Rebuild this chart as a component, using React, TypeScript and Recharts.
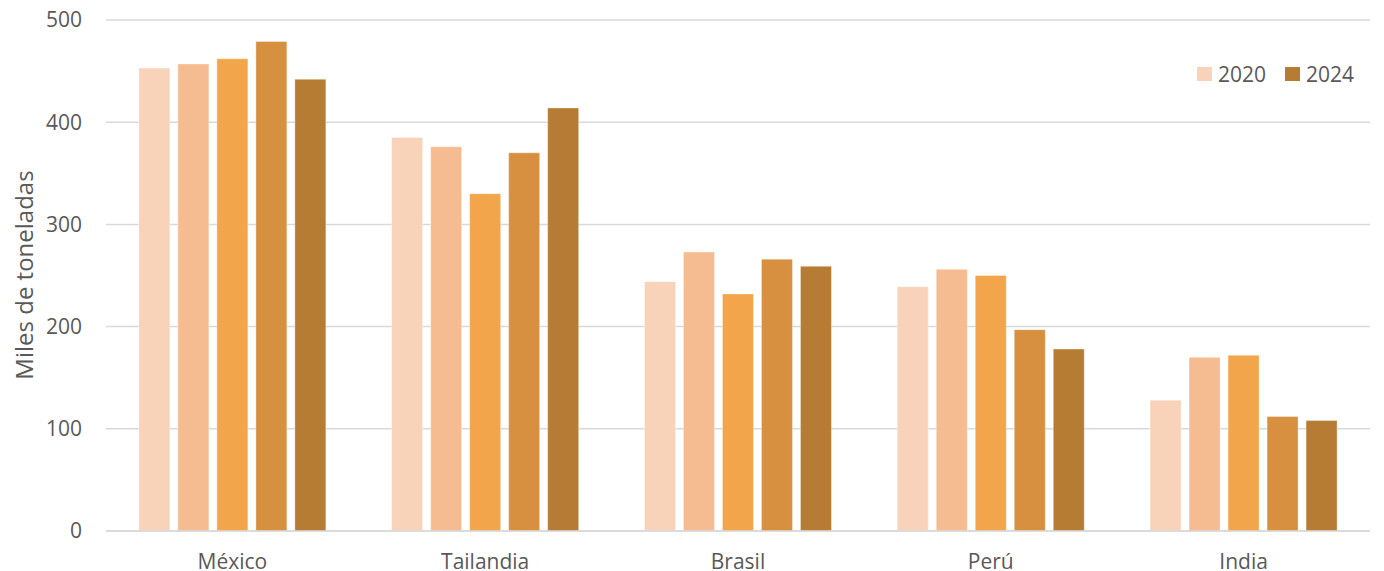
import React from 'react';
import { BarChart, Bar, XAxis, YAxis, CartesianGrid } from 'recharts';

const categories = ['México', 'Tailandia', 'Brasil', 'Perú', 'India'];
const years = ['2020', '2021', '2022', '2023', '2024'];
const v2020 = [453, 385, 244, 239, 128];
const v2021 = [457, 376, 273, 256, 170];
const v2022 = [462, 330, 232, 250, 172];
const v2023 = [479, 370, 266, 197, 112];
const v2024 = [442, 414, 259, 178, 108];
const seriesValues = [v2020, v2021, v2022, v2023, v2024];
const colors = ['#F8D3B9', '#F5BC91', '#F2A54A', '#D6903F', '#B67C34'];
const legendYears = ['2020', '2024'];
const yTicks = [0, 100, 200, 300, 400, 500];
const yLabel = 'Miles de toneladas';

const data = categories.map((name, i) => {
  const row: Record<string, string | number> = { name };
  years.forEach((y, j) => {
    row[y] = seriesValues[j][i];
  });
  return row;
});

const FONT = '"Open Sans", sans-serif';
const TEXT = '#595959';
const FS = 21;

const LegendBox = () => (
  <div
    style={{
      position: 'absolute',
      left: 1197,
      top: 62,
      display: 'flex',
      alignItems: 'center',
      fontFamily: FONT,
      fontSize: FS,
      color: TEXT,
    }}
  >
    {legendYears.map((y, k) => (
      <div key={y} style={{ display: 'flex', alignItems: 'center', marginRight: k < legendYears.length - 1 ? 19 : 0 }}>
        <div style={{ width: 15, height: 14, background: colors[years.indexOf(y)], marginRight: 6 }} />
        <span style={{ lineHeight: '24px' }}>{y}</span>
      </div>
    ))}
  </div>
);

export default function App() {
  return (
    <div style={{ position: 'absolute', left: 0, top: 0, width: 1384, height: 571, background: '#fff' }}>
      <BarChart
        width={1384}
        height={571}
        data={data}
        margin={{ top: 20, right: 14, left: 0, bottom: 0 }}
        barCategoryGap="13%"
        barGap={8}
      >
        <CartesianGrid vertical={false} stroke="#D9D9D9" strokeWidth={1.5} />
        <XAxis
          dataKey="name"
          height={40}
          tickLine={false}
          tickSize={0}
          tickMargin={23}
          axisLine={{ stroke: '#D9D9D9', strokeWidth: 1.5 }}
          tick={{ fill: TEXT, fontSize: FS, fontFamily: FONT }}
        />
        <YAxis
          width={106}
          domain={[0, 500]}
          ticks={yTicks}
          axisLine={false}
          tickLine={false}
          tickSize={0}
          tickMargin={24}
          tick={{ fill: TEXT, fontSize: FS, fontFamily: FONT }}
          label={{
            value: yLabel,
            content: () => (
              <text
                x={23}
                y={275}
                transform="rotate(-90, 23, 275)"
                textAnchor="middle"
                dominantBaseline="central"
                fill={TEXT}
                fontSize={24}
                fontFamily={FONT}
              >
                {yLabel}
              </text>
            ),
          }}
        />
        {years.map((y, j) => (
          <Bar
            key={y}
            dataKey={y}
            fill={colors[j]}
            stroke="#ffffff"
            strokeOpacity={0.35}
            strokeWidth={1}
            isAnimationActive={false}
          />
        ))}
      </BarChart>
      <LegendBox />
    </div>
  );
}
